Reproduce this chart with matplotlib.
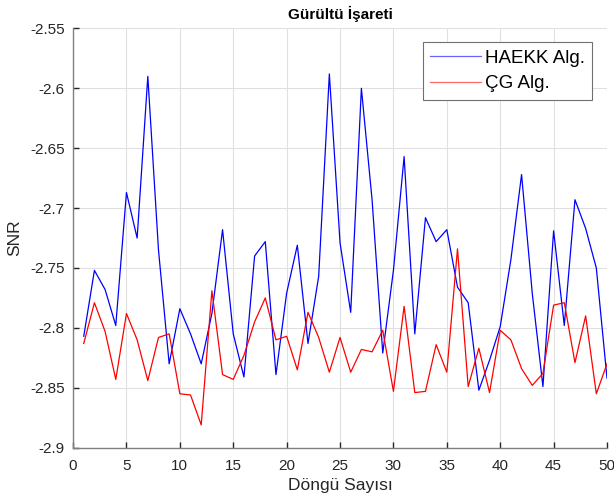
import numpy as np
import matplotlib
matplotlib.use('Agg')
import matplotlib.pyplot as plt

plt.rcParams['font.family'] = ['Liberation Sans', 'DejaVu Sans']

dongu = np.arange(1, 51)
haekk = [-2.807, -2.752, -2.768, -2.798, -2.687, -2.725, -2.590, -2.735, -2.830, -2.784,
         -2.805, -2.830, -2.788, -2.718, -2.805, -2.841, -2.740, -2.728, -2.839, -2.771,
         -2.731, -2.813, -2.757, -2.588, -2.729, -2.787, -2.600, -2.693, -2.821, -2.752,
         -2.657, -2.805, -2.708, -2.728, -2.718, -2.766, -2.779, -2.852, -2.827, -2.799,
         -2.743, -2.672, -2.771, -2.849, -2.719, -2.798, -2.693, -2.717, -2.750, -2.842]
cg = [-2.813, -2.779, -2.803, -2.843, -2.788, -2.810, -2.844, -2.808, -2.805, -2.855,
      -2.856, -2.881, -2.769, -2.839, -2.843, -2.823, -2.795, -2.775, -2.810, -2.807,
      -2.835, -2.787, -2.808, -2.837, -2.808, -2.837, -2.818, -2.820, -2.802, -2.853,
      -2.782, -2.854, -2.853, -2.814, -2.837, -2.734, -2.849, -2.817, -2.854, -2.802,
      -2.810, -2.834, -2.848, -2.838, -2.781, -2.779, -2.829, -2.790, -2.855, -2.830]

fig = plt.figure(figsize=(6.14, 5.03), dpi=100)
ax = fig.add_axes([0.119, 0.110, 0.8696, 0.8335])
ax.plot(dongu, haekk, color='b', lw=0.9, label='HAEKK Alg.')
ax.plot(dongu, cg, color='r', lw=0.9, label='ÇG Alg.')

ax.set_xlim(0, 50)
ax.set_ylim(-2.9, -2.55)
ax.set_xticks(np.arange(0, 51, 5))
ax.set_yticks(np.arange(-2.9, -2.549, 0.05))
ax.set_yticklabels(['-2.9', '-2.85', '-2.8', '-2.75', '-2.7', '-2.65', '-2.6', '-2.55'])
ax.grid(True, color='#e0e0e0', lw=0.8)
ax.set_axisbelow(True)
ax.tick_params(direction='in', labelsize=11, colors='#262626', length=4, width=1)
ax.tick_params(axis='x', pad=8)
ax.tick_params(axis='y', pad=6)
ax.spines['top'].set_visible(False)
ax.spines['right'].set_visible(False)
for s in ['left', 'bottom']:
    ax.spines[s].set_color('#808080')
    ax.spines[s].set_linewidth(1)

ax.set_xlabel('Döngü Sayısı', fontsize=12.5, color='#262626', labelpad=4)
ax.set_ylabel('SNR', fontsize=12.5, color='#262626', labelpad=6)
ax.set_title('Gürültü İşareti', fontsize=11, fontweight='bold', pad=7)
leg = ax.legend(loc='upper right', fontsize=13.5, fancybox=False, framealpha=1,
                edgecolor='#707070', handlelength=2.7, handletextpad=0.2,
                borderpad=0.4, labelspacing=0.45, borderaxespad=0,
                bbox_to_anchor=(0.9725, 0.9676))
leg.get_frame().set_linewidth(0.8)
for h in leg.get_lines():
    h.set_alpha(0.6)

fig.savefig('out.png', dpi=100)
